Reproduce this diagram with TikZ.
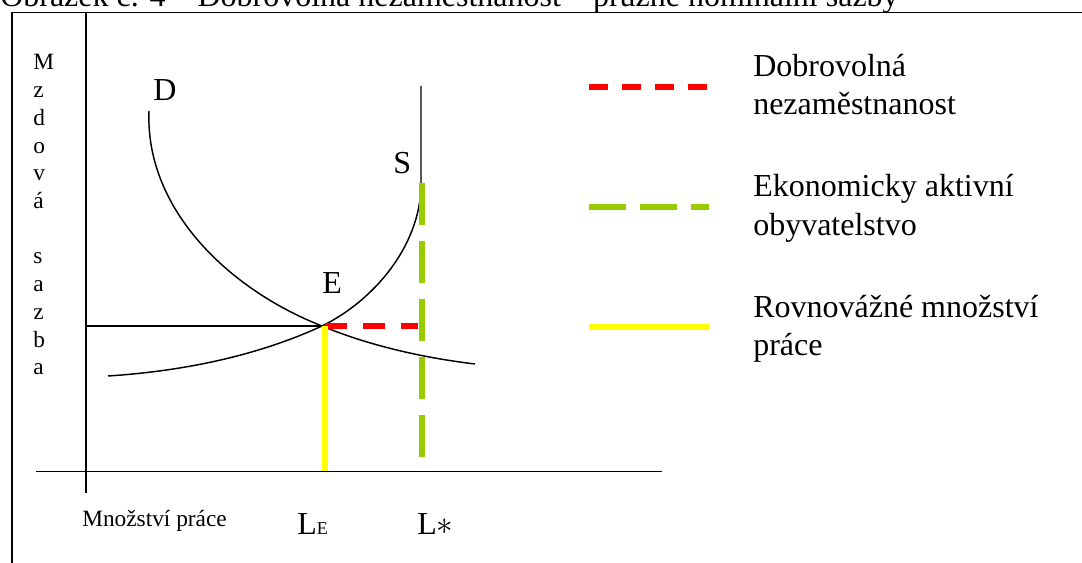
\documentclass[tikz,border=0pt]{standalone}
\usepackage{fontspec}
\setmainfont{Liberation Serif}
\definecolor{redd}{RGB}{255,0,0}
\definecolor{grn}{RGB}{153,204,0}
\definecolor{yel}{RGB}{255,255,0}
\begin{document}
\begin{tikzpicture}[x=0.75pt,y=-0.75pt,
  ink/.style={line width=1.1pt, black},
  big/.style={font=\fontsize{24}{28.5}\selectfont, inner sep=0pt, anchor=base west},
  mid/.style={font=\fontsize{17.5}{20.8}\selectfont, inner sep=0pt, anchor=base west},
  redline/.style={line width=3.8pt, color=redd},
  grnline/.style={line width=3.8pt, color=grn},
  yelline/.style={line width=3.8pt, color=yel}]
\useasboundingbox (0,0) rectangle (1082,563);
% caption (cut off at top)
\node[big] (cap) at (0,7) {Obrázek č. 4 – Dobrovolná nezaměstnanost – pružné nominální sazby};
% frame
\draw[ink] (12,570) -- (12,12.5) -- (1090,12.5);
% axes
\draw[ink] (86,13) -- (86,493);
\draw[ink] (36,471.5) -- (662,471.5);
% y axis label
\foreach \c [count=\i] in {M,z,d,o,v,á,{},s,a,z,b,a}
  \node[mid] (yl\i) at (33,{70+27.7*(\i-1)}) {\c};
% equilibrium point
\coordinate (E) at (322,326);
% horizontal wage line
\draw[ink] (86,326) -- (E);
% D curve
\draw[ink] (149,111) .. controls (145,210) and (230,290) .. (E)
  .. controls (370,346) and (425,358) .. (475,364);
% S curve
\draw[ink] (108,376) .. controls (200,370) and (270,350) .. (E)
  .. controls (375,300) and (420,245) .. (421,186) -- (421,86);
% coloured lines
\draw[redline, dash pattern=on 16.5pt off 12pt] (325,326) -- (418,326);
\draw[yelline] (325,326) -- (325,471);
\draw[grnline, dash pattern=on 31.5pt off 12pt] (422,183) -- (422,460);
% curve labels
\node[big] (lD) at (153,101) {D};
\node[big] (lS) at (393,174) {S};
\node[big] (lE) at (322,293) {E};
% x labels
\node[mid] (xl) at (82,526) {Množství práce};
\node[big] (LE) at (297,534) {L\fontsize{13.5}{16}\selectfont E};
\node[big] (Ls) at (417,534) {L$\ast$};
% legend
\draw[redline, dash pattern=on 14.25pt off 10.5pt] (589,87) -- (707,87);
\draw[grnline, dash pattern=on 27.75pt off 10.5pt] (589,207) -- (709,207);
\draw[yelline] (589,327) -- (709,327);
\node[big] (t1) at (753,77) {Dobrovolná};
\node[big] (t2) at (753,115) {nezaměstnanost};
\node[big] (t3) at (753,197) {Ekonomicky aktivní};
\node[big] (t4) at (753,235) {obyvatelstvo};
\node[big] (t5) at (753,317) {Rovnovážné množství};
\node[big] (t6) at (753,355) {práce};
\end{tikzpicture}
\end{document}
